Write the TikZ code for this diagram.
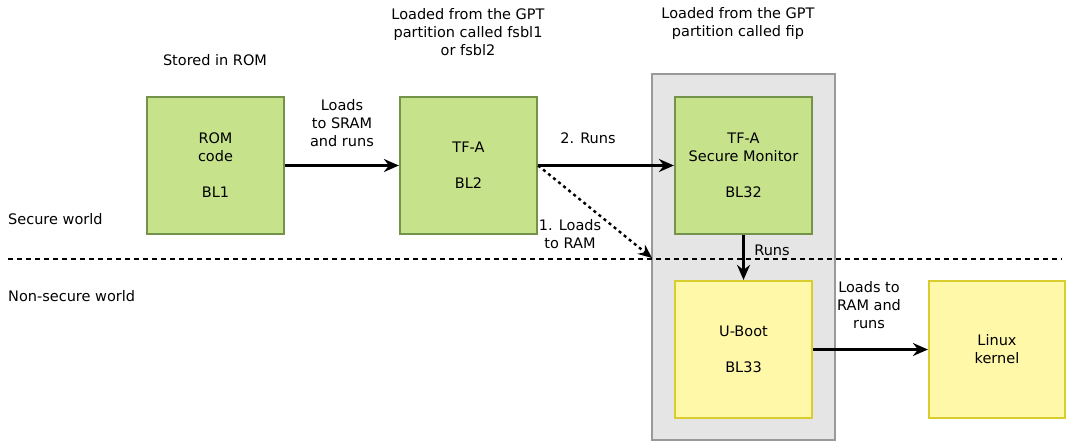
\documentclass[tikz,border=0pt]{standalone}
\usepackage{fontspec}
\setmainfont{DejaVu Sans}
\usetikzlibrary{arrows.meta}
\definecolor{gfill}{HTML}{C6E28B}
\definecolor{gdraw}{HTML}{74934A}
\definecolor{yfill}{HTML}{FFF8A8}
\definecolor{ydraw}{HTML}{D9CC2E}
\definecolor{pfill}{HTML}{E5E5E5}
\definecolor{pdraw}{HTML}{999999}
\tikzset{
  every node/.style={font=\fontsize{14.5}{18}\selectfont, align=center, inner sep=0pt},
  greenbox/.style={draw=gdraw, fill=gfill, line width=2.2pt, minimum width=137pt, minimum height=137pt},
  yellowbox/.style={draw=ydraw, fill=yfill, line width=2.2pt, minimum width=137pt, minimum height=137pt},
  graybox/.style={draw=pdraw, fill=pfill, line width=2.2pt, minimum width=183pt, minimum height=366pt},
  conn/.style={line width=2.4pt, -{Stealth[length=15pt,width=13pt,inset=5pt]}},
  dotconn/.style={line width=2.4pt, dash pattern=on 3pt off 3.5pt, -{Stealth[length=14pt,width=12pt,inset=5pt]}}
}
\begin{document}
\begin{tikzpicture}[x=1pt,y=-1pt]
\useasboundingbox (0,0) rectangle (1066,442);
\node[graybox] (fip) at (743.5,257) {};
\node[greenbox] (rom) at (215.5,165.5) {ROM\\code\\~\\BL1};
\node[greenbox] (bl2) at (468.5,165.5) {TF-A\\~\\BL2};
\node[greenbox] (bl32) at (743.5,165.5) {TF-A\\Secure Monitor\\~\\BL32};
\node[yellowbox] (uboot) at (743.5,349.5) {U-Boot\\~\\BL33};
\node[yellowbox, minimum width=136pt] (linux) at (997,349.5) {Linux\\kernel};

\node (tstored) at (215,60) {Stored in ROM};
\node (tfsbl) at (468,32) {Loaded from the GPT\\partition called fsbl1\\or fsbl2};
\node (tfip) at (738,23) {Loaded from the GPT\\partition called fip};
\node (tsram) at (342,123) {Loads\\to SRAM\\and runs};
\node (truns2) at (588,138) {2. Runs};
\node (tloads1) at (570,234.5) {1. Loads\\to RAM};
\node (truns) at (772,250) {Runs};
\node (tram) at (869,305) {Loads to\\RAM and\\runs};
\node[anchor=west] (tsec) at (8,219) {Secure world};
\node[anchor=west] (tnsec) at (8,296) {Non-secure world};

\coordinate (dl) at (8,259);
\coordinate (dr) at (1062,259);
\draw[line width=2.2pt, dash pattern=on 5pt off 4pt] (dl) -- (dr);

\coordinate (bl2r) at (bl2.east);
\coordinate (fiphit) at (652,258);
\draw[conn] (rom.east) -- (bl2.west);
\draw[conn] (bl2.east) -- (bl32.west);
\draw[dotconn] (bl2r) -- (fiphit);
\draw[conn] (bl32.south) -- (uboot.north);
\draw[conn] (uboot.east) -- (linux.west);
\end{tikzpicture}
\end{document}
